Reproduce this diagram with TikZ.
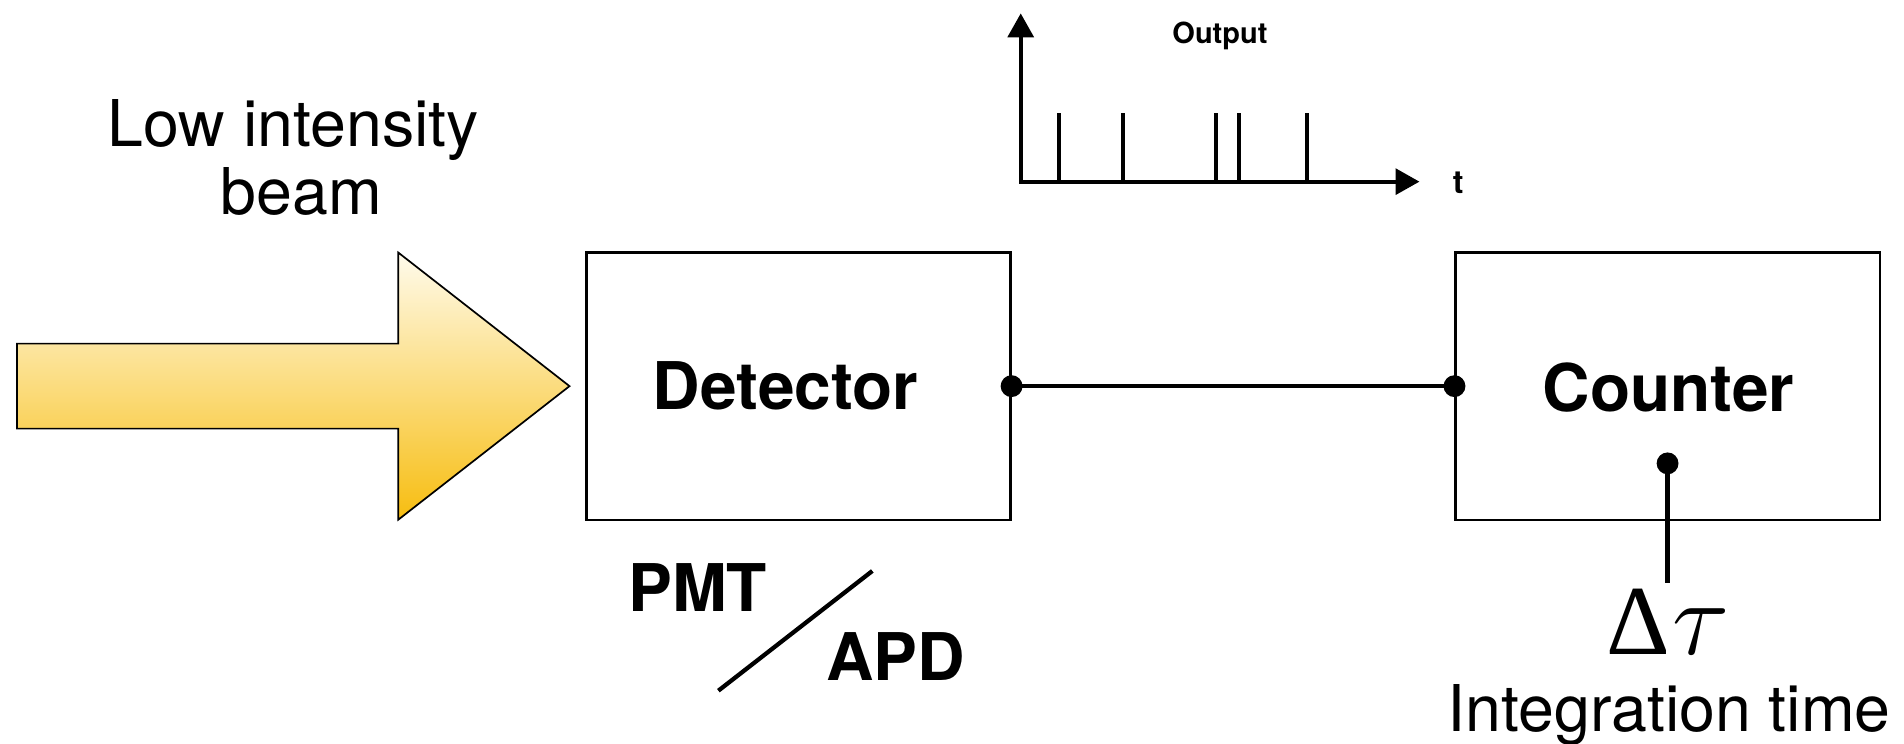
\documentclass[tikz,border=0pt]{standalone}
\usepackage{fontspec}
\setmainfont{TeX Gyre Heros}
\newfontfamily\timesfont{Liberation Serif}
\usetikzlibrary{arrows.meta}
\definecolor{beamtop}{RGB}{255,251,236}
\definecolor{beambot}{RGB}{247,189,16}
\begin{document}
\begin{tikzpicture}[x=0.01cm,y=-0.01cm,
  box/.style={draw, line width=0.5pt, minimum width=3.49cm, minimum height=2.2cm, inner sep=0},
  txt/.style={inner sep=0, anchor=base, font=\fontsize{15.1}{18}\selectfont},
  btxt/.style={inner sep=0, anchor=base, font=\fontsize{15.4}{18}\selectfont\bfseries},
  dot/.style={circle, fill=black, inner sep=0, minimum size=0.18cm},
  wire/.style={line width=0.95pt},
  axis/.style={line width=1pt, line join=miter},
  pulse/.style={line width=1pt}
]
\useasboundingbox (0,0) rectangle (1568,612);

% beam arrow
\draw[line width=0.4pt, top color=beamtop, bottom color=beambot]
  (14,283) -- (328,283) -- (328,208) -- (469,318) -- (328,428) -- (328,353) -- (14,353) -- cycle;
\node[txt] (beamA) at (241.5,120.8) {Low intensity};
\node[txt] (beamB) at (248,177) {beam};

% boxes
\node[box] (det) at (657.6,318) {};
\node[box] (cnt) at (1373.3,318) {};
\node[btxt] (detlbl) at (647,337.6) {Detector};
\node[btxt] (cntlbl) at (1374,339) {Counter};

% connection
\draw[wire] (det.east) -- (cnt.west);
\node[dot] (d1) at (det.east) {};
\node[dot] (d2) at (cnt.west) {};

% integration time
\node[dot] (d3) at (1373.3,381.6) {};
\coordinate (tauEnd) at (1373.3,480.4);
\draw[line width=1pt] (d3.center) -- (tauEnd);
\node[inner sep=0, anchor=base, font=\fontsize{23.2}{26}\timesfont] (dtau) at (1373.6,538.6) {Δ\kern0.5pt$\tau$};
\node[txt] (integ) at (1374.6,602.6) {Integration time};

% PMT / APD
\node[btxt] (pmt) at (574.5,503.3) {PMT};
\node[btxt] (apd) at (737.5,560.7) {APD};
\coordinate (slA) at (591.6,568.8);
\coordinate (slB) at (718.4,470.2);
\draw[line width=1pt] (slA) -- (slB);

% output plot
\coordinate (O) at (840.6,149.6);
\coordinate (Ytip) at (840.6,11);
\coordinate (Xtip) at (1169,149.6);
\draw[axis, {Triangle[length=5.6pt,width=6pt]}-{Triangle[length=5.6pt,width=6pt]}] (Ytip) -- (O) -- (Xtip);
\foreach \px in {872.1,924.6,1001.4,1020.1,1076.6}
  \draw[pulse] (\px,149.6) -- (\px,93.3);
\node[inner sep=0, anchor=base, font=\fontsize{6.8}{8}\selectfont\bfseries] (outlbl) at (1004.7,35.6) {Output};
\node[inner sep=0, anchor=base, font=\fontsize{7.5}{9}\selectfont\bfseries] (tlbl) at (1200.8,159) {t};
\end{tikzpicture}
\end{document}
